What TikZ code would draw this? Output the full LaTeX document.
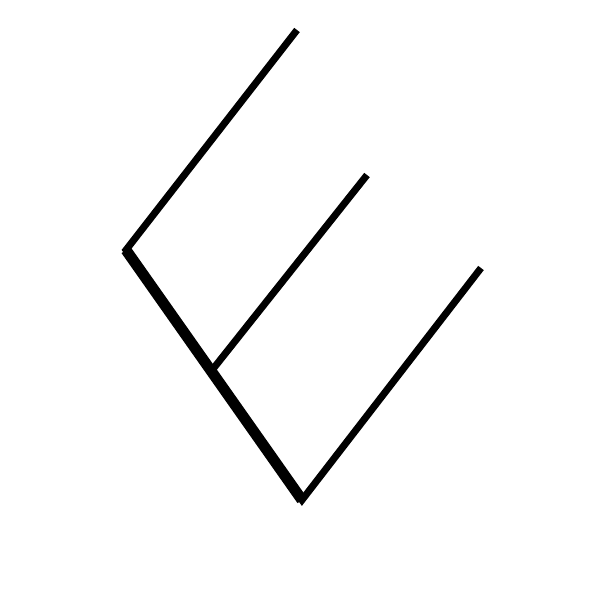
\documentclass[tikz,border=0pt]{standalone}
\usepackage{tikz}
\usetikzlibrary{calc}

\begin{document}
\begin{tikzpicture}[
  thinstroke/.style={line width=2.0pt, line join=miter},
  thickstroke/.style={line width=3.1pt, line join=miter},
]

%% ── Frame: 6 cm square ───────────────────────────────────────────────────────
\useasboundingbox (0,0) rectangle (6,6);

%% ── Tree points ──────────────────────────────────────────────────────────────
\coordinate (tipA)  at (2.97, 5.70);   % left leaf
\coordinate (tipB)  at (3.67, 4.25);   % middle leaf
\coordinate (tipC)  at (4.81, 3.32);   % right leaf
\coordinate (root)  at (1.26, 3.50);   % left corner
\coordinate (base)  at (3.02, 1.00);   % bottom corner
\coordinate (fork)  at (2.13, 2.31);   % inner branch point

%% ── Outer branches ───────────────────────────────────────────────────────────
\draw[thinstroke] (tipA) -- (root) -- (base) -- (tipC);

% thick spine
\draw[thickstroke] (root) -- (base);

%% ── Inner branch ─────────────────────────────────────────────────────────────
\draw[thinstroke] (fork) -- (tipB);

\end{tikzpicture}
\end{document}
